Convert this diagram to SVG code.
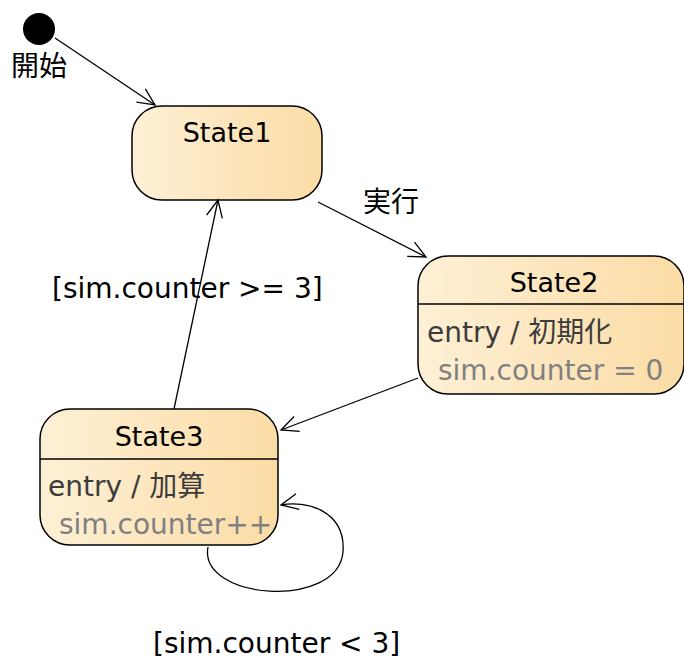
<svg xmlns="http://www.w3.org/2000/svg" width="684" height="661" viewBox="0 0 684 661">
<style>
text{font-family:"DejaVu Sans","Noto Sans CJK JP",sans-serif;font-size:28px;fill:#000}
.t{font-size:27px}
.b{fill:#3c3c3c}
.g{fill:#808080}
.st{fill:url(#gr);stroke:#000;stroke-width:1.5}
.ln{fill:none;stroke:#000;stroke-width:1.3}
</style>
<defs>
<linearGradient id="gr" x1="0" y1="0" x2="1" y2="0">
<stop offset="0" stop-color="#fef0d6"/>
<stop offset="1" stop-color="#fbdca5"/>
</linearGradient>
<marker id="ar" markerWidth="20" markerHeight="20" viewBox="-18 -10 20 20" refX="0" refY="0" orient="auto" markerUnits="userSpaceOnUse">
<path d="M-17,-8 L0,0 L-17,8" fill="none" stroke="#000" stroke-width="1.3"/>
</marker>
</defs>
<g id="initial">
<circle cx="39" cy="29" r="16" fill="#000"/>
<text x="11" y="76">開始</text>
</g>
<g id="State1">
<rect class="st" x="132" y="106" width="190" height="94" rx="30"/>
<text class="t" x="227" y="142" text-anchor="middle">State1</text>
</g>
<g id="State2">
<rect class="st" x="418" y="256" width="266" height="138" rx="30"/>
<line x1="418" y1="304" x2="684" y2="304" stroke="#000" stroke-width="1.5"/>
<text class="t" x="554" y="292" text-anchor="middle">State2</text>
<text class="b" x="427" y="342">entry / 初期化</text>
<text class="g" x="438" y="380">sim.counter = 0</text>
</g>
<g id="State3">
<rect class="st" x="40" y="409" width="238" height="136" rx="30"/>
<line x1="40" y1="459" x2="278" y2="459" stroke="#000" stroke-width="1.5"/>
<text class="t" x="159" y="446" text-anchor="middle">State3</text>
<text class="b" x="48" y="496">entry / 加算</text>
<text class="g" x="59" y="534">sim.counter++</text>
</g>
<g id="connectors">
<line class="ln" x1="55" y1="38" x2="155" y2="105" marker-end="url(#ar)"/>
<line class="ln" x1="318" y1="202" x2="426" y2="257" marker-end="url(#ar)"/>
<text x="363" y="212">実行</text>
<line class="ln" x1="418" y1="378" x2="281" y2="430" marker-end="url(#ar)"/>
<line class="ln" x1="174" y1="409" x2="218" y2="200" marker-end="url(#ar)"/>
<text x="52" y="298">[sim.counter &gt;= 3]</text>
<path class="ln" d="M208,547 C198,600 338,610 343,552 C346,510 305,500 281,505" marker-end="url(#ar)"/>
<text x="153" y="653">[sim.counter &lt; 3]</text>
</g>
</svg>
